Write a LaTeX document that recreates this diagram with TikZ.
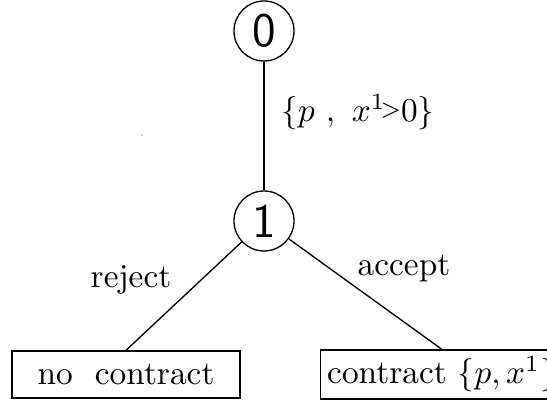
\documentclass[tikz,border=0pt]{standalone}
\begin{document}
\begin{tikzpicture}[x=0.3pt,y=-0.3pt,
  state/.style={draw,circle,thin,minimum size=18pt,inner sep=0pt,font=\Large\sffamily},
  outcome/.style={draw,thin,minimum height=14.1pt,inner sep=2pt}]
\useasboundingbox (0,0) rectangle (547,400);
\clip (0,0) rectangle (547,400);
\node[state] (n0) at (264,31) {0};
\node[state] (n1) at (264,221) {1};
\node (offer) at (358,112) {$\{p~,~x^{1}\!\raisebox{0.35ex}{$\scriptstyle>$}0\}$};
\node[outcome,minimum width=68.4pt] (nocon) at (126,374.5) {no\ \ contract};
\node[outcome] (con) at (442,374.5) {contract $\{p,x^{1}\}$};
\node (rej) at (131,280) {reject};
\node (acc) at (404,268) {accept};
\draw[thin] (n0) -- (n1);
\draw[thin] (n1) -- (nocon.north);
\draw[thin] (n1) -- (con.north);
\fill (142,135) circle (0.6);
\end{tikzpicture}
\end{document}
